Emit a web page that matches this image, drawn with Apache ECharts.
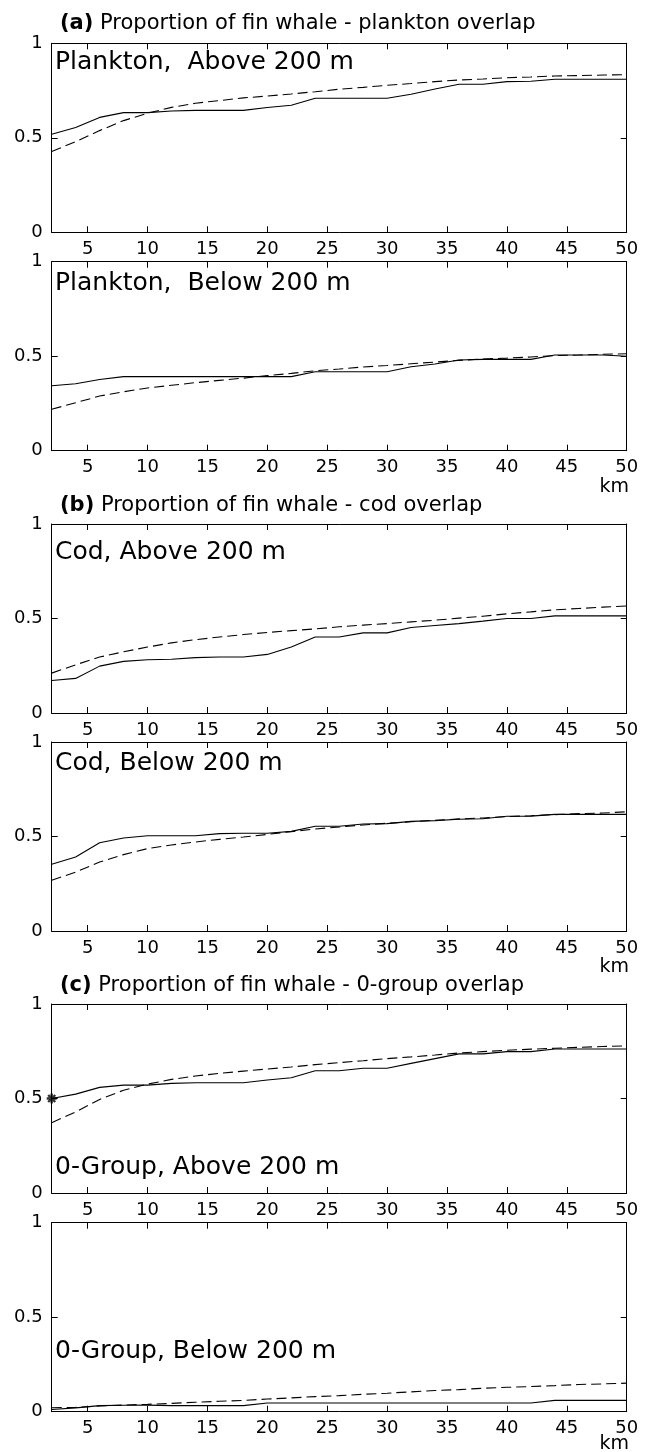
<!DOCTYPE html>
<html><head><meta charset="utf-8">
<script src="https://cdn.jsdelivr.net/npm/echarts@6/dist/echarts.min.js"></script>
<style>html,body{margin:0;padding:0;background:#fff}#c{width:650px;height:1452px}</style>
</head><body><div id="c"></div>
<script>
// ---- data ----
const km = [2,4,6,8,10,12,14,16,18,20,22,24,26,28,30,32,34,36,38,40,42,44,46,48,50];
const xTickValues = [5,10,15,20,25,30,35,40,45,50];
const yTickValues = [0,0.5,1];

const planktonAboveObs = [0.519,0.554,0.608,0.633,0.633,0.642,0.645,0.645,0.645,0.660,0.672,0.709,0.709,0.709,0.709,0.730,0.758,0.783,0.783,0.797,0.799,0.810,0.810,0.810,0.810];
const planktonAboveFit = [0.427,0.480,0.538,0.591,0.630,0.661,0.683,0.697,0.711,0.721,0.732,0.744,0.757,0.767,0.778,0.787,0.797,0.806,0.811,0.818,0.822,0.827,0.829,0.832,0.834];
const planktonBelowObs = [0.344,0.354,0.377,0.392,0.392,0.392,0.392,0.392,0.392,0.392,0.392,0.418,0.418,0.418,0.418,0.444,0.459,0.480,0.483,0.483,0.483,0.506,0.506,0.506,0.500];
const planktonBelowFit = [0.219,0.254,0.289,0.312,0.332,0.346,0.360,0.372,0.384,0.397,0.409,0.423,0.432,0.443,0.451,0.460,0.469,0.478,0.485,0.490,0.496,0.503,0.506,0.510,0.513];
const codAboveObs = [0.172,0.183,0.248,0.273,0.282,0.284,0.293,0.296,0.296,0.310,0.349,0.402,0.402,0.424,0.424,0.452,0.463,0.473,0.486,0.500,0.500,0.514,0.514,0.514,0.514];
const codAboveFit = [0.211,0.255,0.296,0.324,0.349,0.371,0.388,0.402,0.415,0.426,0.436,0.445,0.456,0.465,0.473,0.482,0.491,0.502,0.512,0.525,0.535,0.546,0.553,0.560,0.566];
const codBelowObs = [0.353,0.392,0.467,0.492,0.504,0.504,0.504,0.515,0.517,0.517,0.527,0.554,0.554,0.566,0.568,0.580,0.584,0.591,0.594,0.607,0.608,0.617,0.617,0.617,0.617];
const codBelowFit = [0.268,0.312,0.365,0.404,0.436,0.455,0.471,0.485,0.497,0.511,0.526,0.540,0.550,0.561,0.570,0.578,0.586,0.593,0.598,0.605,0.610,0.616,0.621,0.624,0.631];
const groupAboveObs = [0.500,0.523,0.559,0.571,0.571,0.580,0.583,0.583,0.583,0.598,0.610,0.647,0.647,0.660,0.660,0.686,0.711,0.736,0.736,0.748,0.748,0.762,0.762,0.762,0.762];
const groupAboveFit = [0.372,0.429,0.495,0.544,0.576,0.601,0.619,0.633,0.645,0.656,0.667,0.679,0.690,0.700,0.711,0.720,0.730,0.741,0.748,0.755,0.761,0.766,0.771,0.775,0.778];
const groupBelowObs = [0.012,0.020,0.032,0.034,0.035,0.032,0.032,0.032,0.032,0.046,0.046,0.046,0.046,0.046,0.046,0.046,0.046,0.046,0.046,0.046,0.046,0.060,0.060,0.060,0.060];
const groupBelowFit = [0.021,0.023,0.030,0.035,0.039,0.044,0.050,0.055,0.060,0.067,0.073,0.080,0.085,0.092,0.098,0.105,0.112,0.117,0.124,0.129,0.133,0.138,0.144,0.147,0.151];
const groupAboveMarker = [[2, 0.5]];

const panelLabels = ['Plankton,  Above 200 m','Plankton,  Below 200 m','Cod, Above 200 m','Cod, Below 200 m','0-Group, Above 200 m','0-Group, Below 200 m'];
const sectionTitles = [['(a)',' Proportion of fin whale - plankton overlap'],['(b)',' Proportion of fin whale - cod overlap'],['(c)',' Proportion of fin whale - 0-group overlap']];
const unitLabel = 'km';

// ---- layout ----
const FONT = '"DejaVu Sans"';
const gridTops = [43.3, 261.7, 524, 742, 1004, 1222.7];
const gridH = 189;
const gridLeft = 51.7, gridRight = 650 - 626.7;
const labelY = [62.5, 283, 552, 763, 1167, 1351];
const titleY = [23.5, 505.5, 985.5];
const kmY = [487, 967, 1444];
const panels = [
  [planktonAboveObs, planktonAboveFit],
  [planktonBelowObs, planktonBelowFit],
  [codAboveObs, codAboveFit],
  [codBelowObs, codBelowFit],
  [groupAboveObs, groupAboveFit],
  [groupBelowObs, groupBelowFit]
];

const grid = [], xAxis = [], yAxis = [], series = [];
const axisLine = {show:true, onZero:false, lineStyle:{color:'#000', width:1}};
panels.forEach((p, i) => {
  grid.push({left:gridLeft, right:gridRight, top:gridTops[i], height:gridH, show:false, containLabel:false});
  xAxis.push({type:'value', gridIndex:i, position:'bottom', min:2, max:50, axisLine,
    axisTick:{show:true, inside:true, length:6, customValues:xTickValues, lineStyle:{color:'#000'}},
    axisLabel:{show:true, customValues:xTickValues, margin:8, color:'#000', fontSize:18, fontFamily:FONT},
    splitLine:{show:false}});
  xAxis.push({type:'value', gridIndex:i, position:'top', min:2, max:50, axisLine,
    axisTick:{show:true, inside:true, length:6, customValues:xTickValues, lineStyle:{color:'#000'}},
    axisLabel:{show:false}, splitLine:{show:false}});
  yAxis.push({type:'value', gridIndex:i, position:'left', min:0, max:1, interval:0.5, axisLine,
    axisTick:{show:true, inside:true, length:6, lineStyle:{color:'#000'}},
    axisLabel:{show:true, margin:9, color:'#000', fontSize:18, fontFamily:FONT},
    splitLine:{show:false}});
  yAxis.push({type:'value', gridIndex:i, position:'right', min:0, max:1, interval:0.5, axisLine,
    axisTick:{show:true, inside:true, length:6, lineStyle:{color:'#000'}},
    axisLabel:{show:false}, splitLine:{show:false}});
  series.push({type:'line', xAxisIndex:2*i, yAxisIndex:2*i, data:km.map((k,j)=>[k,p[0][j]]),
    showSymbol:false, symbol:'none', animation:false, lineStyle:{color:'#000', width:1.1, type:'solid'}});
  series.push({type:'line', xAxisIndex:2*i, yAxisIndex:2*i, data:km.map((k,j)=>[k,p[1][j]]),
    showSymbol:false, symbol:'none', animation:false, lineStyle:{color:'#000', width:1.1, type:[10,5]}});
});
const asterisk = 'path://M-1.4,-6L1.4,-6L1.4,6L-1.4,6Z M-6,-1.4L6,-1.4L6,1.4L-6,1.4Z M-3.25,-5.24L5.24,3.25L3.25,5.24L-5.24,-3.25Z M5.24,-3.25L-3.25,5.24L-5.24,3.25L3.25,-5.24Z';
series.push({type:'scatter', xAxisIndex:8, yAxisIndex:8, data:groupAboveMarker, symbol:asterisk, symbolSize:10,
  itemStyle:{color:'#000'}, animation:false, clip:false, z:5});

const graphic = [];
panelLabels.forEach((t, i) => {
  graphic.push({type:'text', x:55, y:labelY[i], style:{text:t, font:'25px '+FONT, fill:'#000', align:'left', verticalAlign:'middle'}});
});
sectionTitles.forEach((t, i) => {
  graphic.push({type:'text', x:60, y:titleY[i], style:{text:'{b|'+t[0]+'}'+t[1], font:'21px '+FONT, fill:'#000', align:'left', verticalAlign:'middle',
    rich:{b:{fontWeight:'bold', fontSize:21, fontFamily:FONT, fill:'#000'}}}});
});
kmY.forEach(y => {
  graphic.push({type:'text', x:629, y:y, style:{text:unitLabel, font:'19px '+FONT, fill:'#000', align:'right', verticalAlign:'middle'}});
});

const chart = echarts.init(document.getElementById('c'), null, {renderer:'canvas'});
chart.setOption({animation:false, backgroundColor:'#fff', grid, xAxis, yAxis, series, graphic});
</script></body></html>
